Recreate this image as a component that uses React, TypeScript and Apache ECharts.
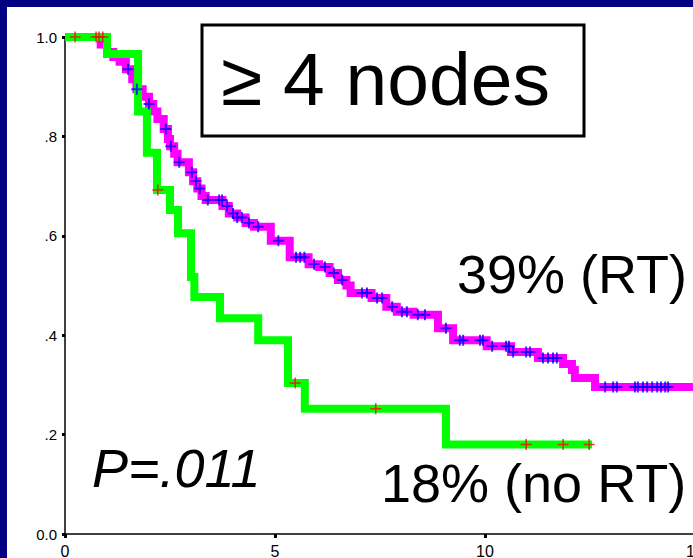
import React, { useEffect, useRef } from "react";
import * as echarts from "echarts";

// Kaplan–Meier estimates, time in years.
// Each step is [time of event, survival after the event].
const rtSteps: [number, number][] = [
  [0.85, 0.985], [1.0, 0.97], [1.15, 0.96], [1.3, 0.95], [1.45, 0.935],
  [1.6, 0.915], [1.7, 0.895], [1.85, 0.88], [2.0, 0.865], [2.1, 0.85],
  [2.2, 0.835], [2.35, 0.815], [2.45, 0.795], [2.5, 0.78], [2.6, 0.765],
  [2.68, 0.748], [2.95, 0.728], [3.05, 0.71], [3.15, 0.695], [3.25, 0.68],
  [3.35, 0.672], [3.75, 0.66], [3.9, 0.645], [4.1, 0.637], [4.3, 0.626],
  [4.5, 0.618], [4.9, 0.59], [5.35, 0.557], [5.8, 0.543], [6.05, 0.537],
  [6.3, 0.525], [6.5, 0.511], [6.7, 0.5], [6.8, 0.485], [7.3, 0.475],
  [7.65, 0.457], [7.9, 0.447], [8.3, 0.441], [8.88, 0.414], [9.24, 0.39],
  [10.04, 0.378], [10.62, 0.366], [11.26, 0.354], [11.86, 0.342],
  [12.07, 0.33], [12.14, 0.314], [12.62, 0.296],
];
const rtFollowUpEnd = 15;
const rtCensored = [
  1.5, 1.71, 2.0, 2.4, 2.52, 2.72, 3.02, 3.12, 3.21, 3.4, 3.67, 3.74, 3.86,
  4.0, 4.1, 4.21, 4.38, 4.6, 5.08, 5.5, 5.6, 5.7, 5.93, 6.19, 6.4, 6.6,
  7.07, 7.19, 7.43, 7.55, 7.79, 8.02, 8.14, 8.4, 8.57, 9.07, 9.4, 9.48,
  9.88, 9.95, 10.17, 10.5, 10.57, 10.67, 10.98, 11.07, 11.38, 11.5, 11.62,
  11.71, 12.86, 13.05, 13.14, 13.57, 13.64, 13.76, 13.86, 13.98, 14.1,
  14.19, 14.29, 14.36,
];

const noRtSteps: [number, number][] = [
  [1.0, 0.966], [1.74, 0.85], [1.95, 0.767], [2.19, 0.692], [2.5, 0.652],
  [2.69, 0.605], [3.0, 0.517], [3.08, 0.477], [3.69, 0.434], [4.6, 0.39],
  [5.31, 0.304], [5.71, 0.252], [9.07, 0.18],
];
const noRtFollowUpEnd = 12.55;
const noRtCensored = [0.24, 0.74, 0.81, 0.9, 2.21, 5.48, 7.4, 10.98, 11.86, 12.48];

const xTicks = [0, 5, 10, 15];
const yTickLabels = ["0.0", ".2", ".4", ".6", ".8", "1.0"];

const FONT = '"Liberation Sans", Arial, Helvetica, sans-serif';
const PLUS_BLUE = "path://M4.1,0H5.9V4.1H10V5.9H5.9V10H4.1V5.9H0V4.1H4.1Z";
const PLUS_RED = "path://M4.3,0H5.7V4.3H10V5.7H5.7V10H4.3V5.7H0V4.3H4.3Z";

function survivalAt(steps: [number, number][], t: number): number {
  let s = 1;
  for (const [ti, si] of steps) if (ti <= t) s = si;
  return s;
}

function curve(steps: [number, number][], end: number): number[][] {
  const last = steps[steps.length - 1][1];
  return [[0, 1], ...steps.map((p) => [p[0], p[1]]), [end, last]];
}

function marks(steps: [number, number][], times: number[]): number[][] {
  return times.map((t) => [t, survivalAt(steps, t)]);
}

function label(text: string, x: number, y: number, font: string) {
  return {
    type: "text",
    z: 50,
    style: {
      text,
      x,
      y,
      font,
      fill: "#000",
      textAlign: "left",
      textVerticalAlign: "middle",
      align: "left",
      verticalAlign: "middle",
    },
  };
}

export default function App() {
  const ref = useRef<HTMLDivElement>(null);

  useEffect(() => {
    if (!ref.current) return;
    const chart = echarts.init(ref.current, undefined, { renderer: "svg" });
    chart.setOption({
      animation: false,
      backgroundColor: "#ffffff",
      grid: {
        left: 65,
        right: -2,
        top: 37,
        bottom: 24,
        containLabel: false,
        outerBoundsMode: "none",
      },
      xAxis: {
        type: "value",
        min: xTicks[0],
        max: xTicks[xTicks.length - 1],
        interval: 5,
        splitLine: { show: false },
        axisLine: { show: true, lineStyle: { color: "#000", width: 1.5 } },
        axisTick: { show: true, length: 4, lineStyle: { color: "#000", width: 3 } },
        axisLabel: {
          color: "#000",
          fontSize: 16,
          fontFamily: FONT,
          margin: 9,
          formatter: (v: number) => String(v),
        },
      },
      yAxis: {
        type: "value",
        min: 0,
        max: 1,
        interval: 0.2,
        splitLine: { show: false },
        axisLine: { show: true, lineStyle: { color: "#000", width: 1.5 } },
        axisTick: { show: true, length: 3, lineStyle: { color: "#000", width: 3 } },
        axisLabel: {
          color: "#000",
          fontSize: 15,
          fontFamily: FONT,
          margin: 8,
          formatter: (v: number) => yTickLabels[Math.round(v / 0.2)],
        },
      },
      series: [
        {
          name: "RT",
          type: "line",
          step: "end",
          showSymbol: false,
          symbol: "none",
          clip: false,
          data: curve(rtSteps, rtFollowUpEnd),
          lineStyle: { color: "#ff00ff", width: 8, join: "miter", cap: "butt" },
          z: 2,
        },
        {
          name: "no RT",
          type: "line",
          step: "end",
          showSymbol: false,
          symbol: "none",
          clip: false,
          data: curve(noRtSteps, noRtFollowUpEnd),
          lineStyle: { color: "#00ff00", width: 8, join: "miter", cap: "butt" },
          z: 3,
        },
        {
          name: "RT censored",
          type: "scatter",
          symbol: PLUS_BLUE,
          symbolSize: 11,
          clip: false,
          itemStyle: { color: "#0000ff" },
          data: marks(rtSteps, rtCensored),
          z: 4,
        },
        {
          name: "no RT censored",
          type: "scatter",
          symbol: PLUS_RED,
          symbolSize: 11,
          clip: false,
          itemStyle: { color: "#ff0000" },
          data: marks(noRtSteps, noRtCensored),
          z: 5,
        },
      ],
      graphic: [
        { type: "rect", z: 60, shape: { x: 0, y: 0, width: 7, height: 558 }, style: { fill: "#000080" } },
        { type: "rect", z: 60, shape: { x: 0, y: 0, width: 693, height: 7 }, style: { fill: "#000080" } },
        {
          type: "rect",
          z: 40,
          shape: { x: 202, y: 25, width: 382, height: 111 },
          style: { fill: "#ffffff", stroke: "#000", lineWidth: 3 },
        },
        label("≥ 4 nodes", 221, 79, `75px ${FONT}`),
        label("39% (RT)", 457, 274, `54px ${FONT}`),
        label("18% (no RT)", 381, 483, `54px ${FONT}`),
        label("P=.011", 92, 468, `italic 54px ${FONT}`),
      ],
    });
    return () => chart.dispose();
  }, []);

  return (
    <div style={{ position: "fixed", left: 0, top: 0, width: 693, height: 558, overflow: "hidden", background: "#fff" }}>
      <div ref={ref} style={{ width: 693, height: 558 }} />
    </div>
  );
}
